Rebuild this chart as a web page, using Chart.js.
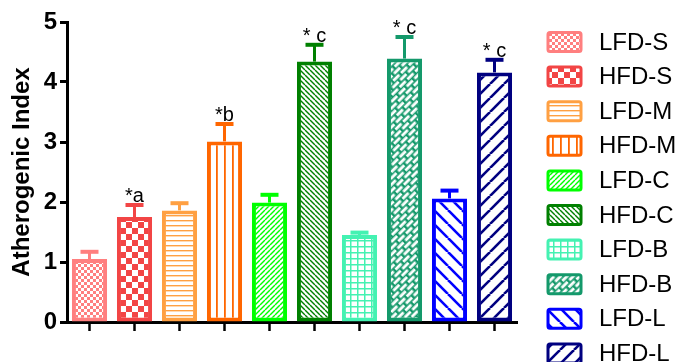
<!DOCTYPE html>
<html>
<head>
<meta charset="utf-8">
<script src="https://cdn.jsdelivr.net/npm/chart.js@4/dist/chart.umd.min.js"></script>
<style>
  html, body { margin: 0; padding: 0; background: #fff; }
  canvas { display: block; }
</style>
</head>
<body>
<canvas id="chart" width="676" height="362"></canvas>
<script>
// Groups and measured values
const groups = ['LFD-S', 'HFD-S', 'LFD-M', 'HFD-M', 'LFD-C', 'HFD-C', 'LFD-B', 'HFD-B', 'LFD-L', 'HFD-L'];
const means = [1.05, 1.75, 1.86, 3.01, 1.99, 4.34, 1.45, 4.39, 2.06, 4.16];
const errors = [0.12, 0.20, 0.12, 0.29, 0.13, 0.28, 0.04, 0.36, 0.13, 0.21];
const sigLabels = ['', '*a', '', '*b', '', '* c', '', '* c', '', '* c'];
const yTicks = [0, 1, 2, 3, 4, 5];

const colors = ['#FF7F7F', '#F24545', '#FFA042', '#FF6600', '#00FF00',
                '#008000', '#44F2B2', '#14996B', '#0000FF', '#000080'];
const fills = ['checkerSmall', 'checkerBig', 'hlines', 'vlines', 'diagUpFine',
               'diagDownFine', 'grid', 'brick', 'diagDownWide', 'diagUpWide'];

const FONT = '"Liberation Sans", Arial, sans-serif';

// Build a repeating fill for a bar
function makePattern(kind, color) {
  const c = document.createElement('canvas');
  const ctx = c.getContext('2d');
  const diag = (s, lw, up) => {
    c.width = c.height = s;
    ctx.fillStyle = '#fff';
    ctx.fillRect(0, 0, s, s);
    ctx.strokeStyle = color;
    ctx.lineWidth = lw;
    for (const k of [-s, 0, s]) {
      ctx.beginPath();
      if (up) { ctx.moveTo(k, s); ctx.lineTo(k + s, 0); }
      else { ctx.moveTo(k, 0); ctx.lineTo(k + s, s); }
      ctx.stroke();
    }
  };
  switch (kind) {
    case 'checkerSmall':
    case 'checkerBig': {
      const sz = kind === 'checkerSmall' ? 3 : 6;
      c.width = c.height = sz * 2;
      ctx.fillStyle = '#fff';
      ctx.fillRect(0, 0, sz * 2, sz * 2);
      ctx.fillStyle = color;
      ctx.fillRect(0, 0, sz, sz);
      ctx.fillRect(sz, sz, sz, sz);
      break;
    }
    case 'hlines':
      c.width = 5; c.height = 5;
      ctx.fillStyle = '#fff';
      ctx.fillRect(0, 0, 5, 5);
      ctx.fillStyle = color;
      ctx.fillRect(0, 0, 5, 1.4);
      break;
    case 'vlines':
      c.width = 8; c.height = 8;
      ctx.fillStyle = '#fff';
      ctx.fillRect(0, 0, 8, 8);
      ctx.fillStyle = color;
      ctx.fillRect(0, 0, 1.8, 8);
      break;
    case 'grid':
      c.width = 7; c.height = 6;
      ctx.fillStyle = '#fff';
      ctx.fillRect(0, 0, 7, 6);
      ctx.fillStyle = color;
      ctx.fillRect(0, 0, 1.5, 6);
      ctx.fillRect(0, 0, 7, 1.5);
      break;
    case 'brick':
      c.width = 11; c.height = 9;
      ctx.fillStyle = color;
      ctx.fillRect(0, 0, 11, 9);
      ctx.fillStyle = '#fff';
      ctx.fillRect(1, 0.8, 8.5, 2.9);
      ctx.fillRect(6.5, 5.3, 8.5, 2.9);
      ctx.fillRect(-4.5, 5.3, 8.5, 2.9);
      break;
    case 'diagUpFine': diag(5, 1.4, true); break;
    case 'diagDownFine': diag(5, 1.4, false); break;
    case 'diagUpWide': diag(14, 2.6, true); break;
    case 'diagDownWide': diag(14, 2.6, false); break;
  }
  const pat = document.createElement('canvas').getContext('2d').createPattern(c, 'repeat');
  if (kind === 'brick') pat.setTransform(new DOMMatrix().rotateSelf(-45));
  return pat;
}

const patterns = fills.map((f, i) => makePattern(f, colors[i]));

// Upward error bars plus significance letters
const errorBars = {
  id: 'errorBars',
  afterDatasetsDraw(chart) {
    const { ctx, scales: { y } } = chart;
    const meta = chart.getDatasetMeta(0);
    ctx.save();
    meta.data.forEach((bar, i) => {
      const top = y.getPixelForValue(means[i]);
      const cap = y.getPixelForValue(means[i] + errors[i]);
      ctx.strokeStyle = colors[i];
      ctx.lineWidth = 3;
      ctx.beginPath();
      ctx.moveTo(bar.x, top);
      ctx.lineTo(bar.x, cap);
      ctx.stroke();
      ctx.lineWidth = 4;
      ctx.beginPath();
      ctx.moveTo(bar.x - 9, cap);
      ctx.lineTo(bar.x + 9, cap);
      ctx.stroke();
      if (sigLabels[i]) {
        ctx.fillStyle = '#000';
        ctx.font = '20px ' + FONT;
        ctx.textAlign = 'center';
        ctx.textBaseline = 'alphabetic';
        ctx.fillText(sigLabels[i], bar.x, cap - 3);
      }
    });
    ctx.restore();
  }
};

// Legend column at the right edge
const sideLegend = {
  id: 'sideLegend',
  afterDraw(chart) {
    const { ctx } = chart;
    ctx.save();
    groups.forEach((g, i) => {
      const cy = 42 + i * 34.6;
      ctx.beginPath();
      ctx.roundRect(548, cy - 9.5, 33, 19, 2);
      ctx.fillStyle = patterns[i];
      ctx.fill();
      ctx.strokeStyle = colors[i];
      ctx.lineWidth = 3;
      ctx.stroke();
      ctx.fillStyle = '#000';
      ctx.font = '24px ' + FONT;
      ctx.textAlign = 'left';
      ctx.textBaseline = 'middle';
      ctx.fillText(g, 599, cy + 1);
    });
    ctx.restore();
  }
};

new Chart(document.getElementById('chart'), {
  type: 'bar',
  data: {
    labels: groups,
    datasets: [{
      data: means,
      backgroundColor: patterns,
      borderColor: colors,
      borderWidth: 4,
      borderSkipped: false,
      barPercentage: 0.78,
      categoryPercentage: 1
    }]
  },
  options: {
    responsive: false,
    animation: false,
    layout: {
      padding: { top: 22, right: 159, bottom: 0, left: 0 }
    },
    plugins: {
      legend: { display: false },
      tooltip: { enabled: false }
    },
    scales: {
      x: {
        grid: {
          offset: false,
          drawOnChartArea: false,
          drawTicks: true,
          tickLength: 9,
          tickWidth: 2.5,
          tickColor: '#000'
        },
        border: { color: '#000', width: 3 },
        ticks: { display: false },
        afterFit(scale) { scale.height = 40; }
      },
      y: {
        min: 0,
        max: 5,
        afterBuildTicks(scale) { scale.ticks = yTicks.map(v => ({ value: v })); },
        grid: {
          drawOnChartArea: false,
          drawTicks: true,
          tickLength: 7,
          tickWidth: 3,
          tickColor: '#000'
        },
        border: { color: '#000', width: 3 },
        ticks: {
          color: '#000',
          padding: 3,
          font: { family: FONT, size: 24, weight: 'bold' }
        },
        title: {
          display: true,
          text: 'Atherogenic Index',
          color: '#000',
          padding: { top: 8, bottom: 0 },
          font: { family: FONT, size: 24, weight: 'bold' }
        },
        afterFit(scale) { scale.width = 67; }
      }
    }
  },
  plugins: [errorBars, sideLegend]
});
</script>
</body>
</html>
